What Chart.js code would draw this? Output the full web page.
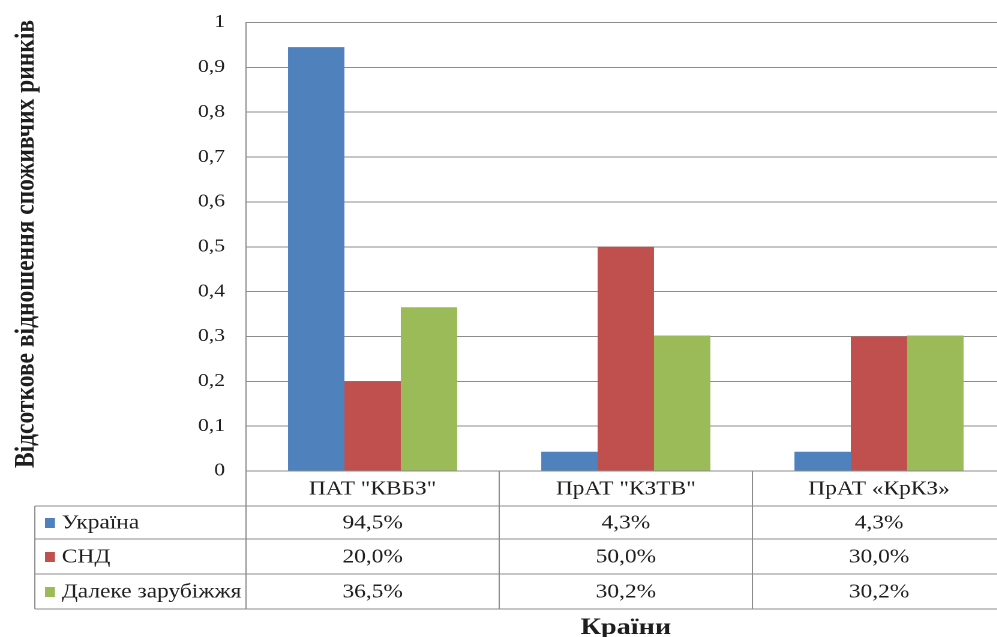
<!DOCTYPE html>
<html>
<head>
<meta charset="utf-8">
<script src="https://cdn.jsdelivr.net/npm/chart.js@4.4.1/dist/chart.umd.min.js"></script>
<style>
  html, body { margin: 0; padding: 0; background: #fff; overflow: hidden; }
  /* the original picture is stretched sideways, so the chart is drawn narrow and stretched */
  #wrap { position: absolute; left: 0; top: 0; width: 838px; height: 637px; transform: scaleX(1.2); transform-origin: 0 0; }
</style>
</head>
<body>
<div id="wrap"><canvas id="chart"></canvas></div>
<script>
const companies = ['ПАТ "КВБЗ"', 'ПрАТ "КЗТВ"', 'ПрАТ «КрКЗ»']
const seriesNames = ['Україна', 'СНД', 'Далеке зарубіжжя']
const ukraine = [0.945, 0.043, 0.043]
const cis = [0.2, 0.5, 0.3]
const farAbroad = [0.365, 0.302, 0.302]
const seriesColors = ['#4F81BD', '#C0504D', '#9BBB59']
const yTitle = 'Відсоткове відношення споживчих ринків'
const xTitle = 'Країни'

const serif = "'Liberation Serif', 'Times New Roman', serif"
const lineColor = '#8c8c8c'
const textColor = '#1e1e1e'
const seriesValues = [ukraine, cis, farAbroad]

const fmtTick = v => String(Math.round(v * 10) / 10).replace('.', ',')
const fmtPct = v => (Math.round(v * 1000) / 10).toFixed(1).replace('.', ',') + '%'

// data table under the plot, Excel style
const tablePlugin = {
  id: 'dataTable',
  afterDatasetsDraw(chart) {
    const { ctx, chartArea } = chart
    const xs = chart.scales.x
    const tableLeft = 29
    const rows = [chartArea.bottom, 506, 539, 574, 609]
    const centers = companies.map((c, i) => xs.getPixelForValue(i))
    const step = centers.length > 1 ? centers[1] - centers[0] : chartArea.width
    const bounds = [centers[0] - step / 2].concat(centers.map(c => c + step / 2))

    ctx.save()
    ctx.strokeStyle = lineColor
    ctx.lineWidth = 1
    ctx.beginPath()
    ctx.moveTo(chartArea.left, rows[0]); ctx.lineTo(chartArea.right, rows[0])
    for (let r = 1; r < rows.length; r++) {
      ctx.moveTo(tableLeft, rows[r]); ctx.lineTo(chartArea.right, rows[r])
    }
    ctx.moveTo(tableLeft, rows[1]); ctx.lineTo(tableLeft, rows[4])
    bounds.forEach(b => { ctx.moveTo(b, rows[0]); ctx.lineTo(b, rows[4]) })
    ctx.stroke()

    ctx.fillStyle = textColor
    ctx.font = '19.5px ' + serif
    ctx.textAlign = 'center'
    ctx.textBaseline = 'middle'
    companies.forEach((c, i) => ctx.fillText(c, centers[i], (rows[0] + rows[1]) / 2 + 1))

    seriesNames.forEach((name, s) => {
      const cy = (rows[s + 1] + rows[s + 2]) / 2 + 1
      ctx.fillStyle = seriesColors[s]
      ctx.fillRect(37.5, cy - 5.5, 8.3, 10)
      ctx.fillStyle = textColor
      ctx.textAlign = 'left'
      ctx.fillText(name, 51.5, cy)
      ctx.textAlign = 'center'
      seriesValues[s].forEach((v, i) => ctx.fillText(fmtPct(v), centers[i], cy))
    })

    // axis titles
    ctx.font = 'bold 23.5px ' + serif
    ctx.textBaseline = 'alphabetic'
    ctx.fillText(xTitle, (chartArea.left + chartArea.right) / 2, 634)
    ctx.translate(28, 244)
    ctx.rotate(-Math.PI / 2)
    ctx.fillText(yTitle, 0, 0)
    ctx.restore()
  }
}

new Chart(document.getElementById('chart').getContext('2d'), {
  type: 'bar',
  data: {
    labels: companies,
    datasets: seriesNames.map((name, s) => ({
      label: name,
      data: seriesValues[s],
      backgroundColor: seriesColors[s],
      borderWidth: 0,
      categoryPercentage: 0.668,
      barPercentage: 1
    }))
  },
  options: {
    responsive: true,
    maintainAspectRatio: false,
    animation: false,
    devicePixelRatio: 2,
    layout: { padding: { top: 22.5, left: 0, right: 0, bottom: 166 } },
    plugins: { legend: { display: false }, tooltip: { enabled: false } },
    scales: {
      x: { display: false },
      y: {
        min: 0,
        max: 1,
        afterFit: scale => {
          scale.width = 205
          scale.paddingTop = 0
          scale.paddingBottom = 0
        },
        ticks: { stepSize: 0.1, padding: 17.5, color: textColor, font: { family: serif, size: 18 }, callback: fmtTick },
        grid: { color: lineColor, drawTicks: false },
        border: { color: lineColor }
      }
    }
  },
  plugins: [tablePlugin]
})
</script>
</body>
</html>
